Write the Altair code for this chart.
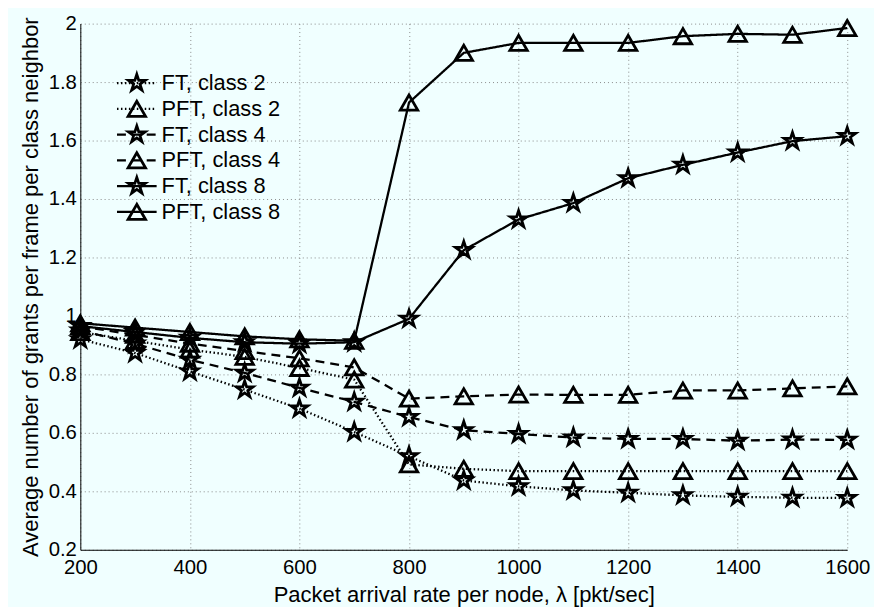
import altair as alt
import pandas as pd

# ---------------- data ----------------
rate = [200, 300, 400, 500, 600, 700, 800, 900, 1000, 1100, 1200, 1300, 1400, 1500, 1600]

ft_class2 = [0.92, 0.873, 0.81, 0.748, 0.683, 0.603, 0.52, 0.437, 0.417, 0.403, 0.395, 0.386, 0.381, 0.378, 0.377]
pft_class2 = [0.945, 0.915, 0.885, 0.86, 0.822, 0.782, 0.492, 0.477, 0.469, 0.469, 0.469, 0.469, 0.469, 0.469, 0.469]
ft_class4 = [0.95, 0.905, 0.85, 0.805, 0.754, 0.706, 0.654, 0.609, 0.596, 0.584, 0.579, 0.579, 0.573, 0.577, 0.576]
pft_class4 = [0.965, 0.935, 0.905, 0.88, 0.855, 0.824, 0.717, 0.725, 0.731, 0.73, 0.73, 0.745, 0.745, 0.752, 0.759]
ft_class8 = [0.965, 0.945, 0.925, 0.91, 0.905, 0.91, 0.99, 1.225, 1.33, 1.386, 1.471, 1.517, 1.559, 1.598, 1.615]
pft_class8 = [0.975, 0.96, 0.945, 0.93, 0.92, 0.915, 1.73, 1.90, 1.934, 1.934, 1.934, 1.957, 1.965, 1.962, 1.985]

series_labels = ["FT, class 2", "PFT, class 2", "FT, class 4", "PFT, class 4", "FT, class 8", "PFT, class 8"]
series_scheme = ["FT", "PFT", "FT", "PFT", "FT", "PFT"]
series_class = ["class 2", "class 2", "class 4", "class 4", "class 8", "class 8"]
series_values = [ft_class2, pft_class2, ft_class4, pft_class4, ft_class8, pft_class8]

x_ticks = [200, 400, 600, 800, 1000, 1200, 1400, 1600]
y_ticks = [0.2, 0.4, 0.6, 0.8, 1.0, 1.2, 1.4, 1.6, 1.8, 2.0]

rows = []
for lab, sch, cls, vals in zip(series_labels, series_scheme, series_class, series_values):
    for xv, yv in zip(rate, vals):
        rows.append({"series": lab, "scheme": sch, "cls": cls, "rate": xv, "value": yv})
df = pd.DataFrame(rows)

leg = pd.DataFrame({
    "series": series_labels,
    "scheme": series_scheme,
    "cls": series_class,
    "row": list(range(len(series_labels))),
})

# ---------------- styles ----------------
FONT = "Liberation Sans"
STAR = ("M0,-1 L0.225,-0.309 L0.951,-0.309 L0.363,0.118 L0.588,0.809 L0,0.382 "
        "L-0.588,0.809 L-0.363,0.118 L-0.951,-0.309 L-0.225,-0.309 Z")

dash_scale = alt.Scale(domain=["class 2", "class 4", "class 8"], range=[[1.5, 2.5], [9, 6], [1, 0]])
shape_scale = alt.Scale(domain=["FT", "PFT"], range=[STAR, "triangle-up"])

x_enc = alt.X(
    "rate:Q",
    scale=alt.Scale(domain=[200, 1600], nice=False),
    axis=alt.Axis(values=x_ticks, format="d", title="Packet arrival rate per node, λ [pkt/sec]",
                  labelPadding=8, titlePadding=6),
)
y_enc = alt.Y(
    "value:Q",
    scale=alt.Scale(domain=[0.2, 2.0], nice=False),
    axis=alt.Axis(values=y_ticks, format="~g", title="Average number of grants per frame per class neighbor",
                  labelPadding=4, titlePadding=6),
)

lines = alt.Chart(df).mark_line(color="black", strokeWidth=2.3).encode(
    x=x_enc, y=y_enc,
    strokeDash=alt.StrokeDash("cls:N", scale=dash_scale, legend=None),
    detail="series:N",
)
points = alt.Chart(df).mark_point(filled=False, color="black", strokeWidth=2.8, size=310, opacity=1).encode(
    x=x_enc, y=y_enc,
    shape=alt.Shape("scheme:N", scale=shape_scale, legend=None),
)
main = alt.layer(lines, points)

leg_y = alt.Y("row:Q", scale=alt.Scale(domain=[0, 5], range=[60, 190]), axis=None)
leg_lines = alt.Chart(leg).mark_rule(color="black", strokeWidth=2.3).encode(
    x=alt.value(37), x2=alt.value(77), y=leg_y,
    strokeDash=alt.StrokeDash("cls:N", scale=dash_scale, legend=None),
)
leg_pts = alt.Chart(leg).mark_point(filled=False, color="black", strokeWidth=2.8, size=310, opacity=1).encode(
    x=alt.value(57), y=leg_y,
    shape=alt.Shape("scheme:N", scale=shape_scale, legend=None),
)
leg_text = alt.Chart(leg).mark_text(align="left", baseline="middle", font=FONT, fontSize=22, color="black").encode(
    x=alt.value(82), y=leg_y, text="series:N",
)
legend = alt.layer(leg_lines, leg_pts, leg_text)

chart = alt.layer(main, legend).resolve_scale(y="independent").properties(
    width=774,
    height=531,
    background="#f0ffff",
    padding={"left": 73, "top": 13, "right": 27, "bottom": 55},
    autosize=alt.AutoSizeParams(type="none"),
).configure_view(
    strokeWidth=0,
    fill="#f0ffff",
).configure_axis(
    labelFont=FONT,
    titleFont=FONT,
    labelFontSize=20.5,
    titleFontSize=22.2,
    titleFontWeight="normal",
    labelColor="black",
    titleColor="black",
    domainColor="black",
    domainWidth=1,
    ticks=False,
    grid=True,
    gridColor="#8a8a8a",
    gridDash=[1, 3],
    gridWidth=1,
    gridOpacity=1,
    labelFlush=False,
    labelOverlap=False,
)

chart.save("out.html", embed_options={"renderer": "svg", "actions": False})
